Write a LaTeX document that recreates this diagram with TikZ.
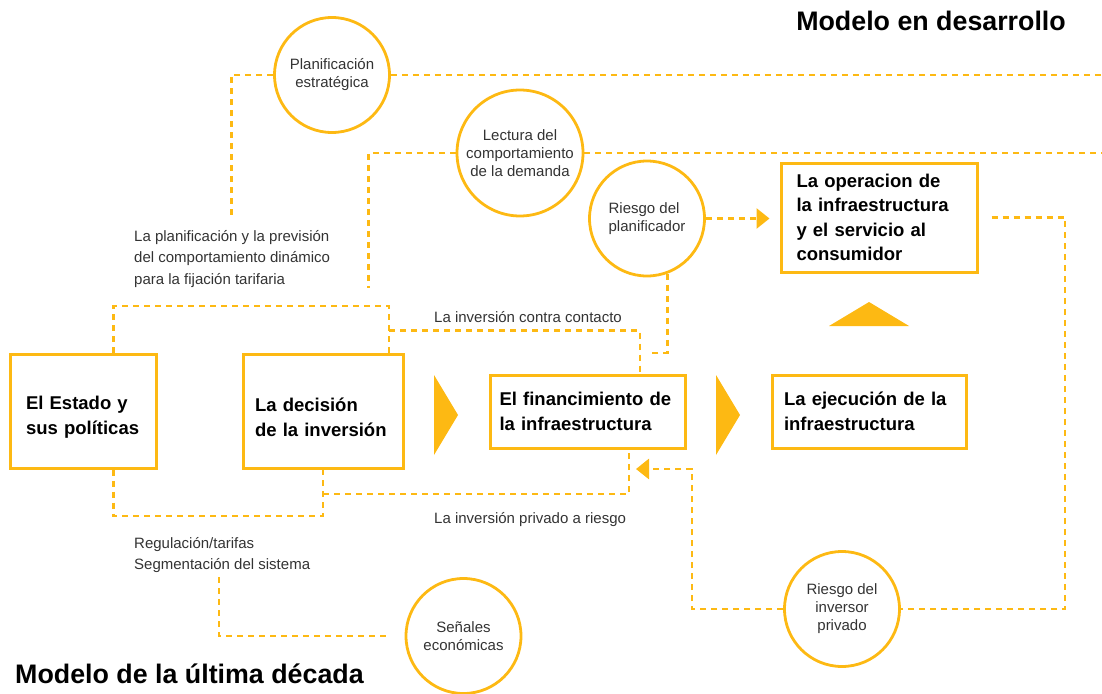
\documentclass[tikz,border=0pt]{standalone}
\usepackage{fontspec}
\setmainfont{Liberation Sans}
\usepackage{tikz}
\usetikzlibrary{arrows.meta,positioning}
\definecolor{amber}{RGB}{253,185,19}
\colorlet{darktext}{black!80}

\begin{document}
\begin{tikzpicture}[
    x=1pt,y=-1pt,
    >={Triangle[length=13pt,width=20pt]},
    box/.style = {draw=amber,line width=3pt,align=left,inner xsep=12pt,
      font=\fontsize{18.5}{24.5}\selectfont\bfseries},
    circ/.style = {circle,draw=amber,line width=2.8pt,minimum size=115pt,
      inner sep=0pt,align=center,text=darktext,font=\fontsize{15}{18}\selectfont},
    note/.style = {inner sep=0pt,align=left,text=darktext,
      font=\fontsize{15}{21.5}\selectfont},
    link/.style = {amber,line width=2.9pt,dash pattern=on 6pt off 5pt},
    title/.style = {inner sep=0pt,font=\fontsize{26.8}{30}\selectfont\bfseries}
    ]
    \useasboundingbox (0,0) rectangle (1102,693);
    % Boxes
    \node[box,text width=114pt,inner xsep=16pt,minimum height=114pt] (estado) at (83,411) {\rule{0pt}{26pt}El Estado y\\sus políticas};
    \node[box,text width=136pt,minimum height=114pt] (decision) at (323,411) {\rule{0pt}{26pt}La decisión\\de la inversión};
    \node[box,text width=176pt,inner xsep=9.5pt,minimum height=73pt] (financ) at (587.5,411.5) {El financimiento de\\la infraestructura};
    \node[box,text width=170pt,minimum height=73pt] (ejec) at (869,411.5) {La ejecución de la\\infraestructura};
    \node[box,text width=165pt,inner xsep=15.5pt,minimum height=109pt] (oper) at (879,217.5) {La operacion de\\la infraestructura\\y el servicio al\\consumidor};
    % Circles
    \node[circ] (planif) at (332,75) {Planificación\\estratégica};
    \node[circ,minimum size=126pt] (lectura) at (520,153) {Lectura del\\comportamiento\\de la demanda};
    \node[circ,align=left] (rplan) at (647,218.5) {Riesgo del\\planificador};
    \node[circ] (rinv) at (842,609) {Riesgo del\\inversor\\privado};
    \node[circ] (senales) at (463.5,636) {Señales\\económicas};
    % Notes
    \node[note,anchor=west] (planNote) at (134,259) {La planificación y la previsión\\del comportamiento dinámico\\para la fijación tarifaria};
    \node[note,anchor=west] (contraNote) at (434,317) {La inversión contra contacto};
    \node[note,anchor=west] (privNote) at (434,520) {La inversión privado a riesgo};
    \node[note,anchor=west] (regulNote) at (134,555) {Regulación/tarifas\\Segmentación del sistema};
    % Titles
    \node[title,anchor=base east] (titleNew) at (1066,30.5) {Modelo en desarrollo};
    \node[title,anchor=base west] (titleOld) at (15,683) {Modelo de la última década};
    % Flow triangles
    \foreach \x in {434,716}
      \fill[amber] (\x,375) -- (\x+24,415) -- (\x,455) -- cycle;
    \fill[amber] (829,326) -- (869,302) -- (909,326) -- cycle;
    % Corners of the dashed links
    \coordinate (planEnd) at (231.5,215);
    \coordinate (lectEnd) at (368.5,288);
    \coordinate (rightEdge) at (1102,0);
    \coordinate (topL) at (113.7,306);
    \coordinate (topR) at (389,306);
    \coordinate (contra) at (640,330.7);
    \coordinate (rplanEnd) at (650,353);
    \coordinate (botL) at (113.7,516);
    \coordinate (priv) at (629,494);
    \coordinate (rinvUp) at (692,469);
    \coordinate (rinvTip) at (636,469);
    \coordinate (operLoop) at (1065,609);
    \coordinate (regulTop) at (219,577);
    % Dashed links
    \draw[link] (planif.west) -| (planEnd);
    \draw[link] (planif.east) -- (planif.east -| rightEdge);
    \draw[link] (lectura.west) -| (lectEnd);
    \draw[link] (lectura.east) -- (lectura.east -| rightEdge);
    \draw[link] (topL |- estado.north) -- (topL) -- (topR) -- (topR |- decision.north);
    \draw[link] (topR |- contra) -- (contra) -- (contra |- financ.north);
    \draw[link] (rplan.-70) |- (rplanEnd);
    \draw[link,->] (rplan.east) -- ([xshift=-10pt]rplan.east -| oper.west);
    \draw[link] ([xshift=13pt]oper.east) -| (operLoop) -- (rinv.east);
    \draw[link,->] (rinv.west) -| (rinvUp) -- (rinvTip);
    \draw[link] (botL |- estado.south) -- (botL) -| (decision.south);
    \draw[link] (decision.south |- priv) -- (priv) -- (priv |- financ.south);
    \draw[link] (regulTop) |- ([xshift=-14pt]senales.west);
\end{tikzpicture}
\end{document}
